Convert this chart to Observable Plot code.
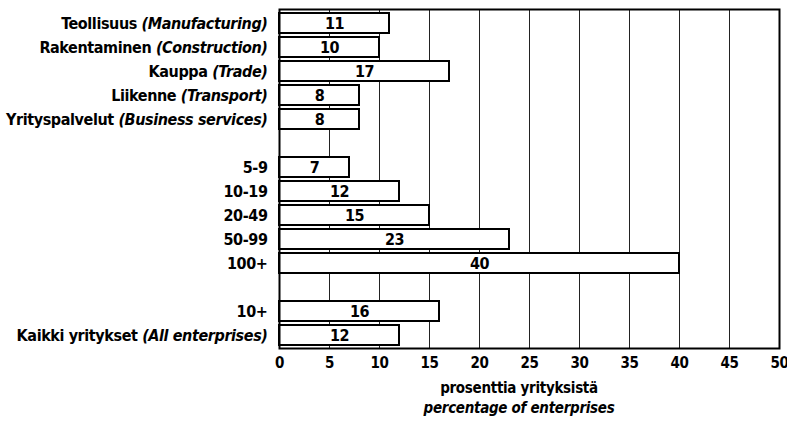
<!DOCTYPE html>
<html>
<head>
<meta charset="utf-8">
<script src="https://cdn.jsdelivr.net/npm/d3@7"></script>
<script src="https://cdn.jsdelivr.net/npm/@observablehq/plot@0.6"></script>
<style>
  html, body { margin: 0; padding: 0; background: #fff; }
  #wrap { position: relative; width: 787px; height: 430px; font-family: "DejaVu Sans Condensed", "Liberation Sans Narrow", sans-serif; font-weight: bold; color: #000; }
  .axis-title { position: absolute; left: 369px; width: 300px; text-align: center; font-size: 15px; line-height: 20px; white-space: nowrap; letter-spacing: -0.3px; }
</style>
</head>
<body>
<div id="wrap">
  <div id="chart"></div>
  <div class="axis-title" style="top:378px">prosenttia yrityksistä</div>
  <div class="axis-title" style="top:398px;font-style:italic">percentage of enterprises</div>
</div>
<script>
// ---- data ----
const industryFi = ["Teollisuus", "Rakentaminen", "Kauppa", "Liikenne", "Yrityspalvelut"];
const industryEn = ["Manufacturing", "Construction", "Trade", "Transport", "Business services"];
const industryValues = [11, 10, 17, 8, 8];

const sizeClasses = ["5-9", "10-19", "20-49", "50-99", "100+"];
const sizeValues = [7, 12, 15, 23, 40];

const totalFi = ["10+", "Kaikki yritykset"];
const totalEn = [null, "All enterprises"];
const totalValues = [16, 12];

const xTicks = [0, 5, 10, 15, 20, 25, 30, 35, 40, 45, 50];

// ---- build rows ----
const label = (fi, en) => en ? `${fi} (${en})` : fi;
const rows = [];
industryFi.forEach((fi, i) => rows.push({key: label(fi, industryEn[i]), value: industryValues[i]}));
const gap1 = "gap1";
sizeClasses.forEach((s, i) => rows.push({key: s, value: sizeValues[i]}));
const gap2 = "gap2";
totalFi.forEach((fi, i) => rows.push({key: label(fi, totalEn[i]), value: totalValues[i]}));

const domain = [
  ...rows.slice(0, 5).map(d => d.key), gap1,
  ...rows.slice(5, 10).map(d => d.key), gap2,
  ...rows.slice(10).map(d => d.key)
];

const font = `"DejaVu Sans Condensed", "Liberation Sans Narrow", sans-serif`;

const chart = Plot.plot({
  width: 787,
  height: 380,
  marginLeft: 279,
  marginRight: 8,
  marginTop: 9,
  marginBottom: 32,
  style: {fontFamily: font, fontWeight: "bold", fontSize: "16px", background: "white", color: "black", letterSpacing: "-0.4px"},
  x: {domain: [0, 50]},
  y: {domain, paddingInner: 0.17, paddingOuter: 0.085},
  marks: [
    Plot.ruleX(xTicks.filter(t => t > 0 && t < 50), {stroke: "#222", strokeWidth: 1}),
    Plot.barX(rows, {x: "value", y: "key", fill: "white", stroke: "black", strokeWidth: 2}),
    Plot.text(rows, {x: d => d.value / 2, y: "key", text: d => String(d.value), fontSize: 16, fontWeight: "bold", fill: "black"}),
    Plot.frame({stroke: "black", strokeWidth: 2}),
    Plot.axisX({ticks: xTicks, tickSize: 0, tickPadding: 9, label: null, fontSize: 15, tickFormat: d => String(d)}),
    Plot.axisY({tickSize: 0, tickPadding: 12, label: null, fontSize: 16,
      tickFormat: d => (d === gap1 || d === gap2) ? "" : d})
  ]
});

// italicise the English part of the category labels
d3.select(chart).selectAll('g[aria-label="y-axis tick label"] text').each(function() {
  const t = d3.select(this);
  const s = t.text();
  const i = s.indexOf(" (");
  if (i >= 0) {
    t.text(null);
    t.append("tspan").text(s.slice(0, i + 1));
    t.append("tspan").attr("font-style", "italic").text(s.slice(i + 1));
  }
});

document.getElementById("chart").appendChild(chart);
</script>
</body>
</html>
